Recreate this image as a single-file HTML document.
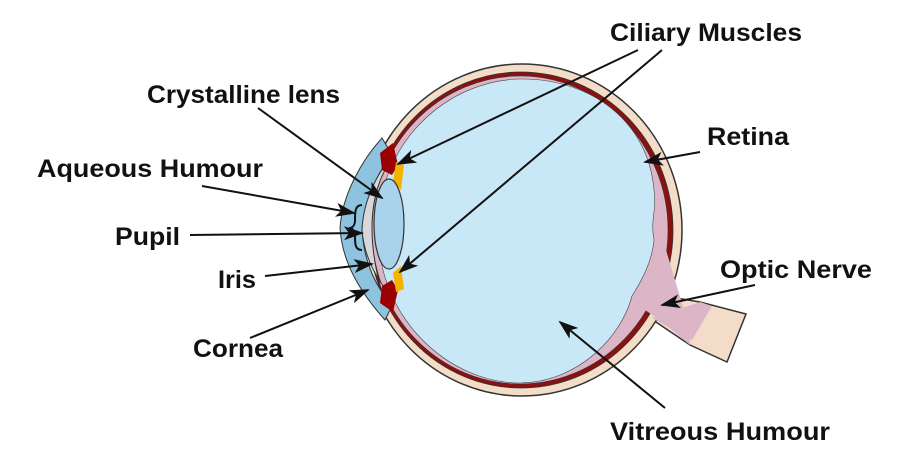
<!DOCTYPE html>
<html><head><style>html,body{margin:0;padding:0;background:#fff;}svg{display:block}
text{font-family:"Liberation Sans",Arial,sans-serif;font-weight:bold;font-size:25px;fill:#111}</style></head>
<body>
<svg width="900" height="468" viewBox="0 0 900 468" xmlns="http://www.w3.org/2000/svg">
<defs>
<marker id="b" markerWidth="20" markerHeight="14" refX="18" refY="7" orient="auto" markerUnits="userSpaceOnUse" viewBox="0 0 20 14"><path d="M0,0 L20,7 L0,14 L5,7 z" fill="#111"/></marker></defs>
<path d="M640,292 L700,302 L746,314 L727,362 L690,345 L650,318 Z" fill="#f3dcc8" stroke="#333" stroke-width="1.5"/>
<ellipse cx="522" cy="230" rx="160" ry="166" fill="#f3dcc8" stroke="#333" stroke-width="1.5"/>
<ellipse cx="521" cy="230" rx="152" ry="158" fill="#8b1010" stroke="#333" stroke-width="0.8"/>
<ellipse cx="520" cy="230" rx="148" ry="154" fill="#dcb6c6" stroke="#333" stroke-width="0.6"/>
<path d="M630,300 C648,290 655,270 660,230 L690,330 L690,345 L660,320 Z" fill="#dcb6c6"/>
<path d="M652,318 L700,302 L712,306 L692,340 Z" fill="#dcb6c6"/>
<path d="M522,79 C590,79 648,120 654,190 C657,210 650,220 654,240 C652,262 642,280 632,296 C622,335 580,382 520,383 C450,383 378,320 378,230 C378,140 450,79 522,79 Z" fill="#c8e8f7" stroke="#444" stroke-width="0.6"/>
<path d="M382,138 C362,160 342,195 340,228 C342,262 360,292 385,320 L392,306 C375,285 364,262 362,230 C364,200 378,172 392,155 Z" fill="#8ec3e0" stroke="#333" stroke-width="1"/>
<path d="M390,158 C376,176 363,202 362,230 C364,256 376,278 390,295 L382,292 C376,272 372,250 372,228 C372,206 376,188 384,172 Z" fill="#d8d8d8" stroke="#333" stroke-width="1"/>
<path d="M382,170 L380,153 L393,143 L398,165 L392,175 Z" fill="#9a0000"/>
<path d="M382,286 L380,303 L393,312 L398,290 L392,280 Z" fill="#9a0000"/>
<path d="M396,162 L404,165 L401,190 L393,182 Z" fill="#f2b400"/>
<path d="M396,292 L404,289 L401,266 L393,273 Z" fill="#f2b400"/>
<ellipse cx="389" cy="224" rx="15" ry="45" fill="#a9d3ea" stroke="#333" stroke-width="1.2"/>
<path d="M362,205 C355,205 355,212 355,220 C355,226 352,228 349,228 C352,228 355,230 355,236 C355,244 355,250 362,250" fill="none" stroke="#111" stroke-width="2"/>
<g>
<text x="610" y="41" textLength="192" lengthAdjust="spacingAndGlyphs">Ciliary Muscles</text>
<text x="147" y="103" textLength="193" lengthAdjust="spacingAndGlyphs">Crystalline lens</text>
<text x="707" y="145" textLength="82" lengthAdjust="spacingAndGlyphs">Retina</text>
<text x="37" y="177" textLength="226" lengthAdjust="spacingAndGlyphs">Aqueous Humour</text>
<text x="115" y="245" textLength="65" lengthAdjust="spacingAndGlyphs">Pupil</text>
<text x="218" y="288" textLength="38" lengthAdjust="spacingAndGlyphs">Iris</text>
<text x="720" y="278" textLength="152" lengthAdjust="spacingAndGlyphs">Optic Nerve</text>
<text x="193" y="357" textLength="90" lengthAdjust="spacingAndGlyphs">Cornea</text>
<text x="610" y="440" textLength="220" lengthAdjust="spacingAndGlyphs">Vitreous Humour</text>
</g>
<g stroke="#111" stroke-width="2" fill="none" marker-end="url(#b)">
<line x1="638" y1="50" x2="398" y2="164"/>
<line x1="662" y1="50" x2="400" y2="272"/>
<line x1="258" y1="108" x2="382" y2="198"/>
<line x1="700" y1="152" x2="645" y2="162"/>
<line x1="202" y1="186" x2="354" y2="213"/>
<line x1="190" y1="235" x2="362" y2="233"/>
<line x1="265" y1="276" x2="372" y2="264"/>
<line x1="250" y1="338" x2="368" y2="290"/>
<line x1="755" y1="285" x2="662" y2="305"/>
<line x1="665" y1="408" x2="560" y2="322"/>
</g>
</svg>
</body></html>
